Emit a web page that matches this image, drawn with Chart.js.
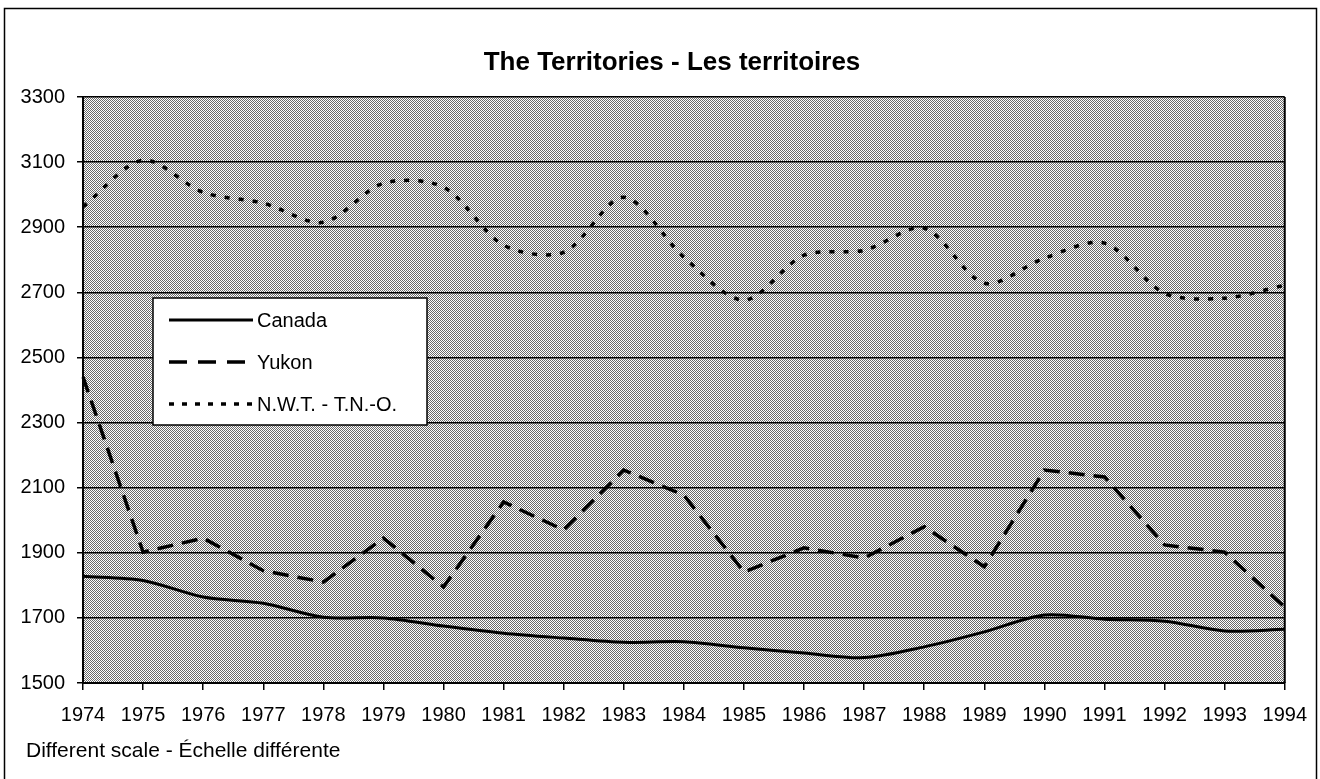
<!DOCTYPE html>
<html>
<head>
<meta charset="utf-8">
<title>The Territories - Les territoires</title>
<script src="https://cdn.jsdelivr.net/npm/chart.js@4.4.1/dist/chart.umd.min.js"></script>
<style>
  html, body { margin: 0; padding: 0; background: #fff; }
</style>
</head>
<body>
<canvas id="chart" width="1320" height="779"></canvas>
<script>
// ---- data ----
const years = ["1974", "1975", "1976", "1977", "1978", "1979", "1980", "1981", "1982", "1983", "1984",
  "1985", "1986", "1987", "1988", "1989", "1990", "1991", "1992", "1993", "1994"];

const canadaValues = [1828, 1815, 1764, 1745, 1702, 1700, 1675, 1653, 1638, 1625, 1627,
  1608, 1592, 1578, 1611, 1657, 1709, 1696, 1690, 1660, 1665];

const yukonValues = [2440, 1902, 1945, 1845, 1810, 1945, 1795, 2056, 1970, 2154, 2077,
  1841, 1915, 1884, 1980, 1857, 2154, 2133, 1924, 1902, 1733];

const nwtValues = [2963, 3106, 3007, 2974, 2915, 3035, 3023, 2845, 2823, 2992, 2808,
  2676, 2814, 2829, 2897, 2728, 2805, 2851, 2697, 2682, 2722];

const yTicks = [1500, 1700, 1900, 2100, 2300, 2500, 2700, 2900, 3100, 3300];

const seriesNames = ["Canada", "Yukon", "N.W.T. - T.N.-O."];
const titleText = "The Territories - Les territoires";
const footText = "Different scale - Échelle différente";

const FONT = '"Liberation Sans", Arial, Helvetica, sans-serif';

// stippled grey fill like the old printout
function makeStipple(ctx) {
  const c = document.createElement("canvas");
  c.width = 2;
  c.height = 2;
  const p = c.getContext("2d");
  p.fillStyle = "#fff";
  p.fillRect(0, 0, 2, 2);
  p.fillStyle = "#6a6a6a";
  p.fillRect(0, 0, 1, 1);
  p.fillRect(1, 1, 1, 1);
  return ctx.createPattern(c, "repeat");
}

const decor = {
  id: "decor",
  beforeDraw(chart) {
    const { ctx, chartArea: a } = chart;
    ctx.save();
    ctx.fillStyle = "#fff";
    ctx.fillRect(0, 0, chart.width, chart.height);

    ctx.fillStyle = makeStipple(ctx);
    ctx.fillRect(a.left, a.top, a.right - a.left, a.bottom - a.top);

    // outer frame
    ctx.strokeStyle = "#000";
    ctx.lineWidth = 1.5;
    ctx.strokeRect(4.5, 8.5, 1312, 800);

    // title + footnote
    ctx.fillStyle = "#000";
    ctx.textBaseline = "middle";
    ctx.textAlign = "center";
    ctx.font = `bold 26px ${FONT}`;
    ctx.fillText(titleText, 672, 63);

    ctx.textAlign = "left";
    ctx.font = `21px ${FONT}`;
    ctx.fillText(footText, 26, 751);
    ctx.restore();
  },
  afterDatasetsDraw(chart) {
    const { ctx, chartArea: a } = chart;
    ctx.save();

    // right edge of the plot box
    ctx.strokeStyle = "#000";
    ctx.lineWidth = 2;
    ctx.beginPath();
    ctx.moveTo(a.right, a.top);
    ctx.lineTo(a.right, a.bottom);
    ctx.stroke();

    // legend box
    const box = { x: 153, y: 298, w: 274, h: 127 };
    ctx.fillStyle = "#fff";
    ctx.fillRect(box.x, box.y, box.w, box.h);
    ctx.lineWidth = 1.5;
    ctx.strokeRect(box.x, box.y, box.w, box.h);

    ctx.font = `20px ${FONT}`;
    ctx.textAlign = "left";
    ctx.textBaseline = "middle";
    chart.data.datasets.forEach((ds, i) => {
      const y = 320 + i * 42;
      ctx.strokeStyle = "#000";
      ctx.lineWidth = ds.borderWidth;
      ctx.setLineDash(ds.legendDash || []);
      ctx.beginPath();
      ctx.moveTo(169, y);
      ctx.lineTo(253, y);
      ctx.stroke();
      ctx.setLineDash([]);
      ctx.fillStyle = "#000";
      ctx.fillText(ds.label, 257, y + 1);
    });
    ctx.restore();
  }
};

const ctx = document.getElementById("chart").getContext("2d");

new Chart(ctx, {
  type: "line",
  data: {
    labels: years,
    datasets: [
      {
        label: seriesNames[0],
        data: canadaValues,
        borderColor: "#000",
        borderWidth: 3,
        tension: 0.3,
        pointRadius: 0
      },
      {
        label: seriesNames[1],
        data: yukonValues,
        borderColor: "#000",
        borderWidth: 3.5,
        borderDash: [16, 9],
        legendDash: [18, 11],
        tension: 0,
        pointRadius: 0
      },
      {
        label: seriesNames[2],
        data: nwtValues,
        borderColor: "#000",
        borderWidth: 3.5,
        borderDash: [5, 9],
        legendDash: [5, 8],
        tension: 0.3,
        pointRadius: 0
      }
    ]
  },
  options: {
    responsive: false,
    animation: false,
    layout: {
      padding: { top: 97, right: 33, bottom: 46, left: 0 }
    },
    plugins: {
      legend: { display: false },
      title: { display: false },
      tooltip: { enabled: false }
    },
    scales: {
      x: {
        offset: false,
        grid: {
          drawOnChartArea: false,
          drawTicks: true,
          tickLength: 7,
          color: "#000",
          lineWidth: 1.5
        },
        border: { color: "#000", width: 2 },
        ticks: {
          color: "#000",
          font: { family: FONT, size: 20 },
          padding: 13,
          autoSkip: false,
          maxRotation: 0
        },
        afterFit(scale) { scale.height = 50; }
      },
      y: {
        min: 1500,
        max: 3300,
        afterBuildTicks(scale) {
          scale.ticks = yTicks.map(v => ({ value: v }));
        },
        grid: {
          color: "#000",
          lineWidth: 1.5,
          tickLength: 6
        },
        border: { color: "#000", width: 2 },
        ticks: {
          color: "#000",
          font: { family: FONT, size: 20 },
          padding: 12,
          callback: v => String(v)
        },
        afterFit(scale) { scale.width = 83; }
      }
    }
  },
  plugins: [decor]
});
</script>
</body>
</html>
